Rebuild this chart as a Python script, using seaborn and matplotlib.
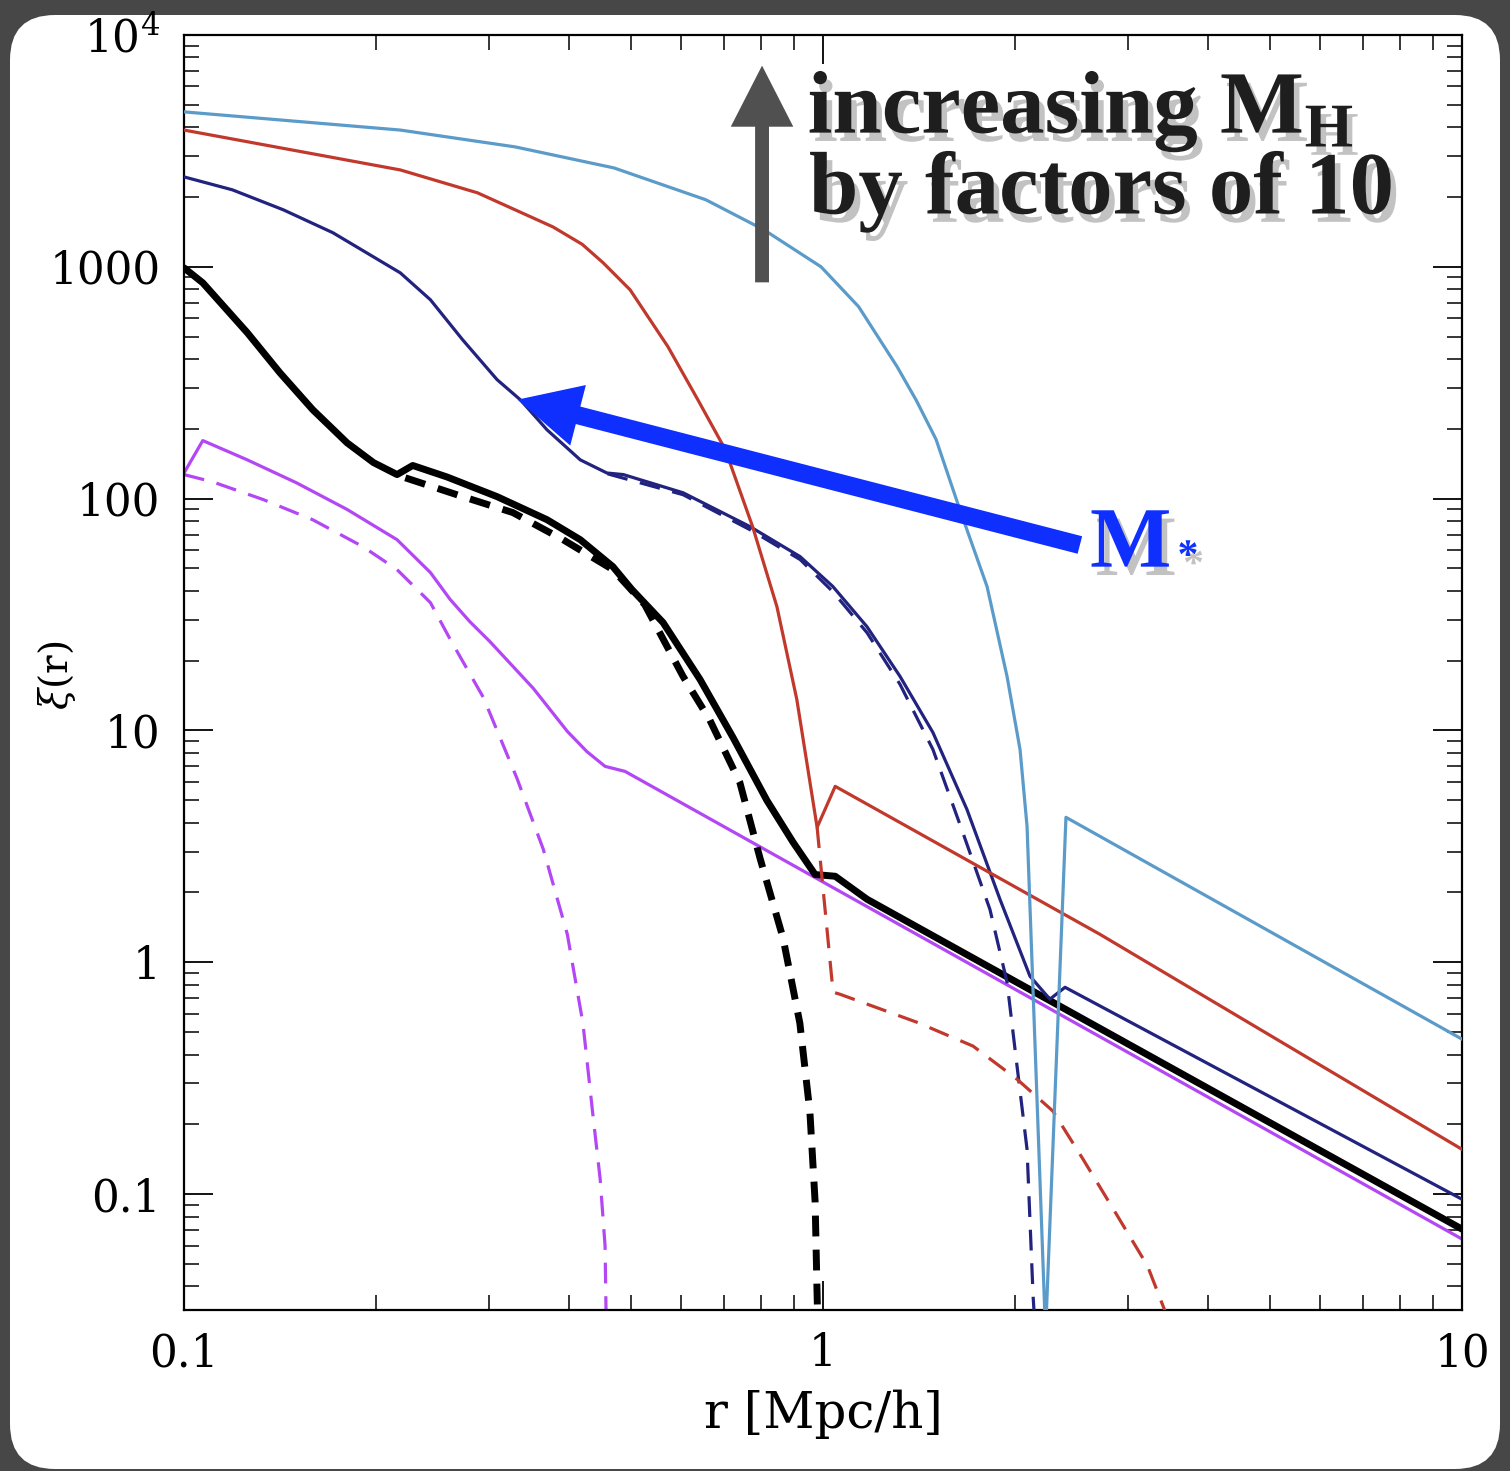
import numpy as np
import pandas as pd
import matplotlib
matplotlib.use("Agg")
import matplotlib.pyplot as plt
import seaborn as sns
from matplotlib.patches import FancyBboxPatch, FancyArrowPatch, ArrowStyle
from matplotlib.transforms import IdentityTransform
from matplotlib.ticker import LogLocator, NullFormatter
import matplotlib.patheffects as pe

# ---------------- data ----------------
r_lblue = [0.100, 0.218, 0.330, 0.471, 0.656, 0.809, 0.993, 1.137, 1.306, 1.400, 1.503,
           1.637, 1.806, 1.941, 2.034, 2.086, 2.23, 2.40, 10.0]
xi_lblue = [4660, 3890, 3290, 2670, 1945, 1442, 1000, 673, 371, 265, 180,
            89.8, 41.8, 17.1, 8.28, 3.86, 0.025, 4.22, 0.466]

r_red = [0.100, 0.218, 0.288, 0.378, 0.420, 0.453, 0.499, 0.572, 0.637, 0.703, 0.776,
         0.847, 0.910, 0.979, 1.045, 2.713, 10.0]
xi_red = [3890, 2618, 2085, 1486, 1250, 1040, 796, 452, 267, 163, 75.7,
          34.2, 13.6, 3.82, 5.74, 1.32, 0.156]
r_red_1h = [0.979, 1.037, 1.063, 1.403, 1.717, 2.012, 2.29, 2.55, 2.89, 3.22, 3.52]
xi_red_1h = [3.82, 0.743, 0.728, 0.551, 0.435, 0.313, 0.228, 0.142, 0.0804, 0.049, 0.026]

r_navy = [0.100, 0.119, 0.143, 0.171, 0.218, 0.243, 0.273, 0.309, 0.336, 0.370, 0.417,
          0.459, 0.487, 0.604, 0.769, 0.921, 1.036, 1.172, 1.320, 1.486, 1.680, 1.892,
          2.108, 2.265, 2.392, 10.0]
xi_navy = [2443, 2149, 1762, 1403, 942, 721, 484, 326, 267, 198, 147,
           129, 127, 106, 75.7, 56.2, 41.8, 28.0, 17.1, 9.80, 4.56, 1.87,
           0.871, 0.693, 0.780, 0.095]
r_navy_1h = [0.460, 0.604, 0.769, 0.921, 1.036, 1.172, 1.320, 1.486, 1.655, 1.825,
             1.941, 2.012, 2.086, 2.132, 2.148]
xi_navy_1h = [128, 104, 73.4, 54.6, 39.7, 26.4, 15.8, 8.28, 3.63, 1.69,
              0.820, 0.357, 0.156, 0.0363, 0.026]

r_black = [0.100, 0.107, 0.1256, 0.1413, 0.159, 0.180, 0.198, 0.2155, 0.228, 0.258, 0.309,
           0.370, 0.417, 0.469, 0.502, 0.562, 0.642, 0.723, 0.817, 0.898, 0.972, 1.045,
           1.172, 10.0]
xi_black = [990, 853, 520, 349, 242, 174, 143, 127, 139, 124, 102,
            81.1, 66.5, 50.9, 40.6, 29.2, 16.6, 9.33, 4.99, 3.29, 2.39, 2.35,
            1.87, 0.0706]
r_black_1h = [0.222, 0.273, 0.327, 0.392, 0.469, 0.526, 0.604, 0.665, 0.741, 0.797,
              0.866, 0.920, 0.954, 0.972, 0.979, 0.982]
xi_black_1h = [123, 102, 87.1, 66.5, 49.4, 34.9, 17.1, 11.1, 5.97, 2.81,
               1.27, 0.546, 0.225, 0.0925, 0.0367, 0.026]

r_purple = [0.100, 0.107, 0.1256, 0.150, 0.180, 0.2155, 0.243, 0.261, 0.280, 0.301,
            0.352, 0.398, 0.427, 0.456, 0.490, 10.0]
xi_purple = [129, 178, 147, 117, 89.8, 66.5, 48.0, 36.7, 29.5, 24.2,
             15.2, 9.91, 8.11, 7.00, 6.66, 0.064]
r_purple_1h = [0.100, 0.111, 0.133, 0.159, 0.1905, 0.2155, 0.243, 0.261, 0.294, 0.332,
               0.365, 0.398, 0.421, 0.436, 0.448, 0.456, 0.458]
xi_purple_1h = [127, 118, 99.1, 81.1, 62.1, 49.4, 35.6, 24.7, 13.9, 6.21,
                3.07, 1.32, 0.546, 0.225, 0.116, 0.0597, 0.026]

x_ticks = [0.1, 1, 10]
x_ticklabels = ["0.1", "1", "10"]
y_ticks = [0.1, 1, 10, 100, 1000, 1e4]
y_ticklabels = ["0.1", "1", "10", "100", "1000", r"$10^4$"]

# ---------------- style ----------------
sns.set_theme(style="ticks")
plt.rcParams["font.family"] = ["DejaVu Serif"]
plt.rcParams["text.color"] = "black"
plt.rcParams["axes.labelcolor"] = "black"
plt.rcParams["xtick.color"] = "black"
plt.rcParams["ytick.color"] = "black"
plt.rcParams["mathtext.fontset"] = "custom"
plt.rcParams["mathtext.rm"] = "DejaVu Serif"
plt.rcParams["mathtext.it"] = "DejaVu Serif:italic"
plt.rcParams["mathtext.bf"] = "Liberation Serif:bold"

W, H = 1510, 1471
fig = plt.figure(figsize=(W / 100, H / 100), dpi=100)
fig.patch.set_facecolor("#474747")
panel = FancyBboxPatch((10, 2), 1490, 1454, boxstyle="round,pad=0,rounding_size=45",
                       transform=IdentityTransform(), facecolor="white",
                       edgecolor="none", zorder=-10)
fig.patches.append(panel)

ax = fig.add_axes([184 / W, 1 - 1310 / H, (1462 - 184) / W, (1310 - 35) / H])
ax.set_facecolor("white")
ax.set_xscale("log")
ax.set_yscale("log")

c_lblue = "#5b9bc9"
c_red = "#c1392c"
c_navy = "#22237f"
c_purple = "#b347f4"
dash_c = (0, (6.5, 4))
dash_k = (0, (3, 1.9))
lw_c = 2.3
lw_k = 5.0

def line(x, y, color, lw, ls, z):
    sns.lineplot(x=x, y=y, ax=ax, color=color, linewidth=lw, linestyle=ls,
                 estimator=None, sort=False, zorder=z)

line(r_purple_1h, xi_purple_1h, c_purple, lw_c, dash_c, 2)
line(r_purple, xi_purple, c_purple, lw_c, "-", 2)
line(r_black_1h, xi_black_1h, "black", lw_k, dash_k, 3)
line(r_black, xi_black, "black", lw_k, "-", 3)
line(r_navy_1h, xi_navy_1h, c_navy, lw_c, dash_c, 4)
line(r_navy, xi_navy, c_navy, lw_c, "-", 4)
line(r_red_1h, xi_red_1h, c_red, lw_c, dash_c, 5)
line(r_red, xi_red, c_red, lw_c, "-", 5)
line(r_lblue, xi_lblue, c_lblue, lw_c, "-", 6)

ax.set_xlim(0.1, 10)
ax.set_ylim(10 ** -1.5, 1e4)

ax.set_xticks(x_ticks, labels=x_ticklabels)
ax.set_yticks(y_ticks, labels=y_ticklabels)
ax.xaxis.set_minor_locator(LogLocator(base=10, subs=np.arange(2, 10)))
ax.yaxis.set_minor_locator(LogLocator(base=10, subs=np.arange(2, 10), numticks=20))
ax.xaxis.set_minor_formatter(NullFormatter())
ax.yaxis.set_minor_formatter(NullFormatter())

ax.tick_params(which="both", direction="in", top=True, right=True, color="black",
               labelcolor="black")
ax.tick_params(which="major", length=21, width=1.3, labelsize=31.5)
ax.tick_params(which="minor", length=10.5, width=1.1)
ax.tick_params(axis="y", which="major", pad=17)
ax.tick_params(axis="x", which="major", pad=16)
for s in ax.spines.values():
    s.set_linewidth(1.6)
    s.set_color("black")

ax.set_xlabel("r [Mpc/h]", fontsize=36, color="black")
ax.set_ylabel(r"$\xi$(r)", fontsize=28, color="black")
ax.xaxis.set_label_coords(0.5, -0.062)
ax.yaxis.set_label_coords(-0.083, 0.498)

# ---------------- annotations ----------------
shadow = [pe.withSimplePatchShadow(offset=(4, -6), shadow_rgbFace="#9a9a9a", alpha=0.6)]

gray_arrow = FancyArrowPatch((0.4523, 0.806), (0.4523, 0.976),
                             arrowstyle=ArrowStyle.Simple(head_length=44, head_width=45, tail_width=10),
                             mutation_scale=1, transform=ax.transAxes, color="#505050",
                             linewidth=0, shrinkA=0, shrinkB=0, zorder=8, clip_on=False)
ax.add_patch(gray_arrow)

blue_arrow = FancyArrowPatch((0.701, 0.600), (0.261, 0.714),
                             arrowstyle=ArrowStyle.Simple(head_length=45, head_width=45, tail_width=13),
                             mutation_scale=1, transform=ax.transAxes, color="#0f2fff",
                             linewidth=0, shrinkA=0, shrinkB=0, zorder=8, clip_on=False)
ax.add_patch(blue_arrow)

ax.text(0.488, 0.923, r"increasing M$_\mathbf{H}$", transform=ax.transAxes,
        fontsize=64, fontweight="bold", family=["Liberation Serif"], color="#1e1e1e",
        ha="left", va="baseline", path_effects=shadow, zorder=9)
ax.text(0.489, 0.860, "by factors of 10", transform=ax.transAxes,
        fontsize=64, fontweight="bold", family=["Liberation Serif"], color="#1e1e1e",
        ha="left", va="baseline", path_effects=shadow, zorder=9)

ax.text(0.709, 0.583, "M", transform=ax.transAxes, fontsize=62, fontweight="bold",
        family=["Liberation Serif"], color="#0f2fff", ha="left", va="baseline",
        path_effects=shadow, zorder=9)
ax.text(0.7856, 0.590, "*", transform=ax.transAxes, fontsize=30, fontweight="bold",
        family=["Liberation Serif"], color="#0f2fff", ha="center", va="center",
        path_effects=shadow, zorder=9)

fig.savefig("out.png", dpi=100, facecolor=fig.get_facecolor())
